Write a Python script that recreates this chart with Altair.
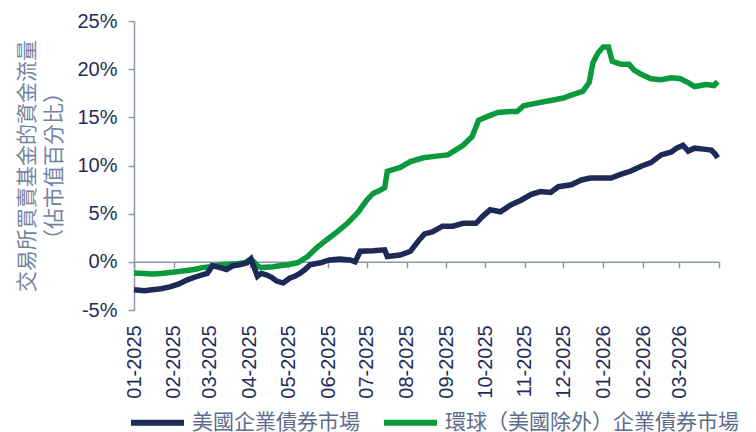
import altair as alt
import pandas as pd

series_names = ["美國企業債券市場", "環球（美國除外）企業債券市場"]
series_colors = ["#1c2a55", "#0b9a3b"]

us_dates = ["2025-01-01", "2025-01-09", "2025-01-15", "2025-01-22", "2025-01-29",
            "2025-02-05", "2025-02-11", "2025-02-17", "2025-02-23", "2025-02-27",
            "2025-03-03", "2025-03-09", "2025-03-14", "2025-03-19", "2025-03-24", "2025-03-30",
            "2025-04-02", "2025-04-07", "2025-04-10", "2025-04-14", "2025-04-18", "2025-04-22", "2025-04-27",
            "2025-05-02", "2025-05-06", "2025-05-10", "2025-05-14", "2025-05-18", "2025-05-26",
            "2025-06-02", "2025-06-10", "2025-06-18", "2025-06-22", "2025-06-26",
            "2025-07-06", "2025-07-15", "2025-07-17", "2025-07-27",
            "2025-08-04", "2025-08-11", "2025-08-15", "2025-08-21", "2025-08-29",
            "2025-09-06", "2025-09-14", "2025-09-24", "2025-09-29",
            "2025-10-05", "2025-10-13", "2025-10-21", "2025-10-29",
            "2025-11-06", "2025-11-13", "2025-11-21", "2025-11-27",
            "2025-12-07", "2025-12-15", "2025-12-22", "2025-12-30",
            "2026-01-07", "2026-01-15", "2026-01-22", "2026-01-30",
            "2026-02-07", "2026-02-15", "2026-02-23", "2026-02-27",
            "2026-03-04", "2026-03-08", "2026-03-13", "2026-03-20", "2026-03-26", "2026-03-29", "2026-03-31"]
us_vals = [-2.9, -3.0, -2.9, -2.8, -2.6,
           -2.3, -1.9, -1.6, -1.35, -1.2,
           -0.4, -0.6, -0.8, -0.4, -0.3, -0.1,
           0.3, -1.5, -1.2, -1.35, -1.6, -2.0, -2.2,
           -1.7, -1.5, -1.2, -0.8, -0.3, -0.1,
           0.2, 0.3, 0.2, 0.0, 1.1,
           1.15, 1.25, 0.55, 0.7,
           1.1, 2.3, 2.9, 3.1, 3.7,
           3.7, 4.0, 4.0, 4.7,
           5.4, 5.2, 5.9, 6.4,
           7.0, 7.3, 7.2, 7.8,
           8.0, 8.5, 8.7, 8.7,
           8.7, 9.1, 9.4, 9.9,
           10.3, 11.1, 11.4, 11.8,
           12.1, 11.5, 11.8, 11.7, 11.6, 11.2, 10.8]

gl_dates = ["2025-01-01", "2025-01-09", "2025-01-15", "2025-01-22", "2025-01-29",
            "2025-02-05", "2025-02-11", "2025-02-17", "2025-02-23",
            "2025-03-02", "2025-03-09", "2025-03-15", "2025-03-22", "2025-03-28",
            "2025-04-02", "2025-04-07", "2025-04-10", "2025-04-19", "2025-04-30",
            "2025-05-08", "2025-05-12", "2025-05-16", "2025-05-23", "2025-05-31",
            "2025-06-08", "2025-06-16", "2025-06-24",
            "2025-07-01", "2025-07-06", "2025-07-11", "2025-07-15", "2025-07-17", "2025-07-27",
            "2025-08-04", "2025-08-14", "2025-08-26",
            "2025-09-02", "2025-09-08", "2025-09-14", "2025-09-21", "2025-09-26",
            "2025-10-03", "2025-10-11", "2025-10-21", "2025-10-26", "2025-10-31",
            "2025-11-11", "2025-11-21",
            "2025-12-01", "2025-12-07", "2025-12-16", "2025-12-21", "2025-12-24", "2025-12-28",
            "2026-01-01", "2026-01-05", "2026-01-08", "2026-01-15", "2026-01-21", "2026-01-25", "2026-01-30",
            "2026-02-07", "2026-02-15", "2026-02-23",
            "2026-03-02", "2026-03-08", "2026-03-13", "2026-03-22", "2026-03-28", "2026-03-31"]
gl_vals = [-1.15, -1.2, -1.25, -1.2, -1.1,
           -1.0, -0.9, -0.8, -0.6,
           -0.5, -0.3, -0.25, -0.2, -0.1,
           0.3, -0.4, -0.6, -0.5, -0.3,
           -0.1, 0.2, 0.55, 1.45, 2.3,
           3.1, 4.0, 5.1,
           6.4, 7.1, 7.4, 7.7, 9.4, 9.8,
           10.4, 10.8, 11.0,
           11.1, 11.6, 12.1, 13.0, 14.7,
           15.1, 15.5, 15.6, 15.6, 16.2,
           16.5, 16.75,
           17.0, 17.3, 17.7, 18.6, 20.7, 21.7,
           22.3, 22.3, 20.8, 20.5, 20.5, 19.9, 19.5,
           19.0, 18.9, 19.1,
           19.0, 18.6, 18.2, 18.4, 18.3, 18.7]

y_ticks = [-5, 0, 5, 10, 15, 20, 25]
y_title = ["交易所買賣基金的資金流量", "（佔市值百分比）"]

df = pd.concat([
    pd.DataFrame({"date": us_dates, "value": us_vals, "series": series_names[0]}),
    pd.DataFrame({"date": gl_dates, "value": gl_vals, "series": series_names[1]}),
], ignore_index=True)

month_ticks = [alt.DateTime(year=2025 + (m // 12), month=(m % 12) + 1, date=1, utc=True) for m in range(16)]

font = "Liberation Sans, Noto Sans CJK TC, sans-serif"

x_enc = alt.X(
    "date:T",
    scale=alt.Scale(type="utc", domain=[month_ticks[0], month_ticks[-1]]),
    axis=alt.Axis(
        title=None, values=month_ticks,
        labelExpr="utcFormat(datum.value, '%Y-%m') == '2026-04' ? '' : utcFormat(datum.value, '%m-%Y')",
        labelAngle=270, labelAlign="right", labelBaseline="middle",
        offset=-48.17, tickSize=6, labelPadding=57, grid=False,
        labelFontSize=20, labelOverlap=False,
    ),
)
y_enc = alt.Y(
    "value:Q",
    scale=alt.Scale(domain=[-5, 25], nice=False, zero=False),
    axis=alt.Axis(
        values=y_ticks, labelExpr="datum.value + '%'", title=y_title,
        grid=False, tickSize=6, labelPadding=11, labelFontSize=20,
        titleFontSize=21, titleLineHeight=27, titleFontWeight="normal",
        titleColor="#7482a0", titlePadding=12,
    ),
)
color_enc = alt.Color(
    "series:N",
    scale=alt.Scale(domain=series_names, range=series_colors),
    legend=alt.Legend(
        title=None, orient="none", legendX=-6, legendY=372, direction="horizontal",
        symbolType="stroke", symbolSize=2809, symbolStrokeWidth=6,
        labelFontSize=21, labelColor="#5d6c8c", labelFont=font, labelLimit=400,
        columnPadding=12, labelOffset=5,
    ),
)

base = alt.Chart(df).mark_line(strokeWidth=5.5).encode(x=x_enc, y=y_enc, color=color_enc)

chart = alt.layer(
    base.transform_filter(alt.datum.series == series_names[1]),
    base.transform_filter(alt.datum.series == series_names[0]),
).properties(
    width=585, height=289,
    padding={"left": 126, "top": 13, "right": 29, "bottom": 122},
    autosize="none",
).configure_view(stroke=None).configure_axis(
    domainColor="#8d99ab", tickColor="#8d99ab", labelColor="#1f2d5a",
    labelFont=font, titleFont=font, domainWidth=1.5, tickWidth=1.5,
)

chart.save("out.html", embed_options={"renderer": "svg", "actions": False})
